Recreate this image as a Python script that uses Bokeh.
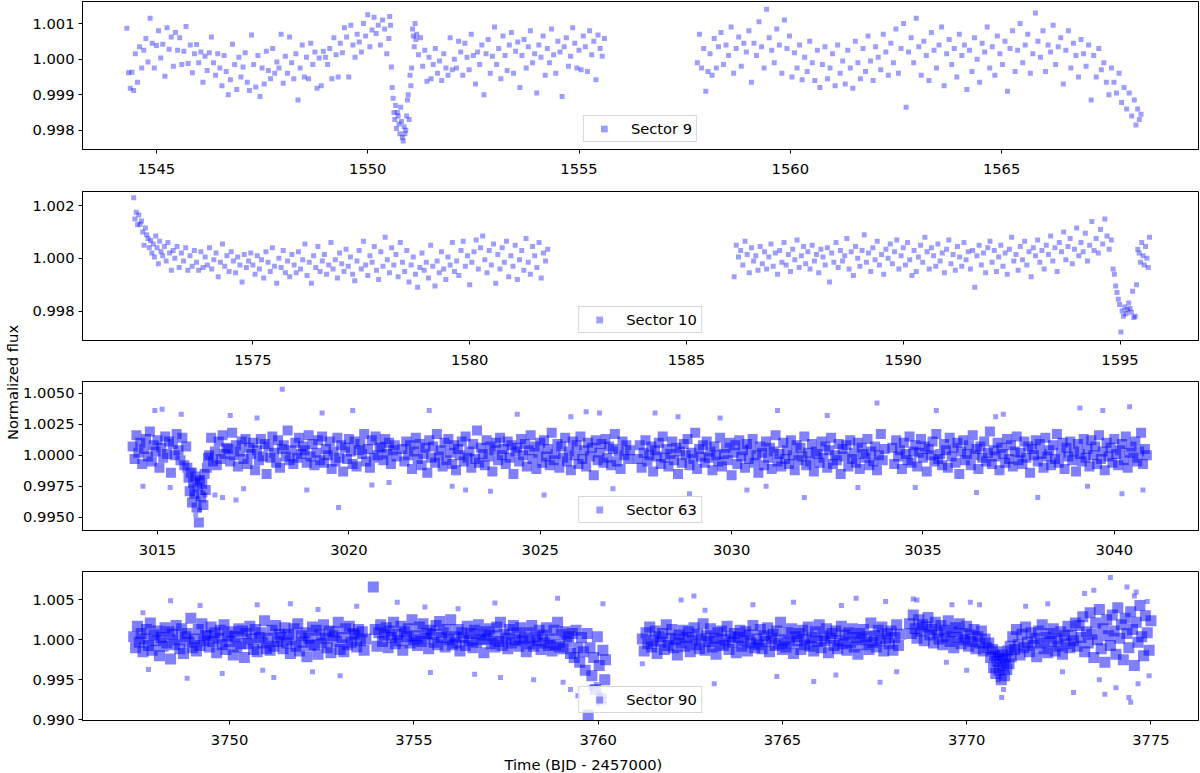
from bokeh.plotting import figure
from bokeh.layouts import column, row
from bokeh.models import Range1d, FixedTicker, NumeralTickFormatter, Title
from bokeh.embed import file_html
from bokeh.resources import INLINE

FONT = "DejaVu Sans"
FS = "14.7px"

sector_labels = ["Sector 9", "Sector 10", "Sector 63", "Sector 90"]
x_title = "Time (BJD - 2457000)"
y_title = "Normalized flux"

s9_xticks = [1545, 1550, 1555, 1560, 1565]
s9_yticks = [0.998, 0.999, 1.000, 1.001]
s10_xticks = [1575, 1580, 1585, 1590, 1595]
s10_yticks = [0.998, 1.000, 1.002]
s63_xticks = [3015, 3020, 3025, 3030, 3035, 3040]
s63_yticks = [0.995, 0.9975, 1.0, 1.0025, 1.005]
s90_xticks = [3750, 3755, 3760, 3765, 3770, 3775]
s90_yticks = [0.990, 0.995, 1.000, 1.005]

# ---------------- Sector 9 ----------------
s9_time = [
    1544.30,1544.34,1544.38,1544.42,1544.46,1544.50,1544.55,1544.60,1544.65,1544.70,
    1544.75,1544.80,1544.85,1544.90,1544.95,1545.00,1545.05,1545.10,1545.15,1545.20,
    1545.25,1545.30,1545.35,1545.40,1545.45,1545.50,1545.55,1545.60,1545.65,1545.70,
    1545.75,1545.80,1545.85,1545.90,1545.95,1546.00,1546.05,1546.10,1546.15,1546.20,
    1546.25,1546.30,1546.35,1546.40,1546.45,1546.50,1546.55,1546.60,1546.65,1546.70,
    1546.75,1546.80,1546.85,1546.90,1546.95,1547.00,1547.05,1547.10,1547.15,1547.20,
    1547.25,1547.30,1547.35,1547.40,1547.45,1547.50,1547.55,1547.60,1547.65,1547.70,
    1547.75,1547.80,1547.85,1547.90,1547.95,1548.00,1548.05,1548.10,1548.15,1548.20,
    1548.25,1548.30,1548.35,1548.40,1548.45,1548.50,1548.55,1548.60,1548.65,1548.70,
    1548.75,1548.80,1548.85,1548.90,1548.95,1549.00,1549.05,1549.10,1549.15,1549.20,
    1549.25,1549.30,1549.35,1549.40,1549.45,1549.50,1549.55,1549.60,1549.65,1549.70,
    1549.75,1549.80,1549.85,1549.90,1549.95,1550.00,1550.05,1550.10,1550.15,1550.20,
    1550.25,1550.30,1550.35,1550.40,1550.45,1550.50,1550.52,1550.54,1550.56,1550.58,
    1550.60,1550.62,1550.64,1550.66,1550.68,1550.70,1550.72,1550.74,1550.76,1550.78,
    1550.80,1550.82,1550.84,1550.86,1550.88,1550.90,1550.92,1550.94,1550.96,1550.98,
    1551.00,1551.02,1551.04,1551.06,1551.08,1551.10,1551.12,1551.14,1551.16,1551.20,
    1551.25,1551.30,1551.35,1551.40,1551.45,1551.50,1551.55,1551.60,1551.65,1551.70,
    1551.75,1551.80,1551.85,1551.90,1551.95,1552.00,1552.05,1552.10,1552.15,1552.20,
    1552.25,1552.30,1552.35,1552.40,1552.45,1552.50,1552.55,1552.60,1552.65,1552.70,
    1552.75,1552.80,1552.85,1552.90,1552.95,1553.00,1553.05,1553.10,1553.15,1553.20,
    1553.25,1553.30,1553.35,1553.40,1553.45,1553.50,1553.55,1553.60,1553.65,1553.70,
    1553.75,1553.80,1553.85,1553.90,1553.95,1554.00,1554.05,1554.10,1554.15,1554.20,
    1554.25,1554.30,1554.35,1554.40,1554.45,1554.50,1554.55,1554.60,1554.65,1554.70,
    1554.75,1554.80,1554.85,1554.90,1554.95,1555.00,1555.05,1555.10,1555.15,1555.20,
    1555.25,1555.30,1555.35,1555.40,1555.45,1555.50,1555.55,1555.60,
    1557.80,1557.85,1557.90,1557.95,1558.00,1558.05,1558.10,1558.15,1558.20,1558.25,
    1558.30,1558.36,1558.42,1558.48,1558.54,1558.60,1558.66,1558.72,1558.78,1558.84,
    1558.90,1558.96,1559.02,1559.08,1559.14,1559.20,1559.26,1559.32,1559.38,1559.44,
    1559.50,1559.56,1559.62,1559.68,1559.74,1559.80,1559.86,1559.92,1559.98,1560.04,
    1560.10,1560.16,1560.22,1560.28,1560.34,1560.40,1560.46,1560.52,1560.58,1560.64,
    1560.70,1560.76,1560.82,1560.88,1560.94,1561.00,1561.06,1561.12,1561.18,1561.24,
    1561.30,1561.36,1561.42,1561.48,1561.54,1561.60,1561.66,1561.72,1561.78,1561.84,
    1561.90,1561.96,1562.02,1562.08,1562.14,1562.20,1562.26,1562.32,1562.38,1562.44,
    1562.50,1562.56,1562.62,1562.68,1562.74,1562.80,1562.86,1562.92,1562.98,1563.04,
    1563.10,1563.16,1563.22,1563.28,1563.34,1563.40,1563.46,1563.52,1563.58,1563.64,
    1563.70,1563.76,1563.82,1563.88,1563.94,1564.00,1564.06,1564.12,1564.18,1564.24,
    1564.30,1564.36,1564.42,1564.48,1564.54,1564.60,1564.66,1564.72,1564.78,1564.84,
    1564.90,1564.96,1565.02,1565.08,1565.14,1565.20,1565.26,1565.32,1565.38,1565.44,
    1565.50,1565.56,1565.62,1565.68,1565.74,1565.80,1565.86,1565.92,1565.98,1566.04,
    1566.10,1566.16,1566.22,1566.28,1566.34,1566.40,1566.46,1566.52,1566.58,1566.64,
    1566.70,1566.76,1566.82,1566.88,1566.94,1567.00,1567.06,1567.12,1567.18,1567.24,
    1567.30,1567.36,1567.42,1567.48,1567.54,1567.60,1567.66,1567.72,1567.78,1567.84,
    1567.90,1567.96,1568.02,1568.08,1568.14,1568.18,1568.22,1568.26,1568.30,
]
s9_flux = [
    1.00087,0.99962,0.99918,0.99963,0.99912,1.00015,0.99935,1.00035,0.99975,1.00025,
    1.00058,0.99992,1.00115,1.00045,0.99975,1.00038,1.00080,1.00003,1.00042,0.99952,
    1.00088,1.00028,1.00062,0.99980,1.00075,1.00025,1.00060,0.99985,1.00022,1.00092,
    0.99988,1.00040,0.99962,1.00015,1.00041,0.99990,1.00020,0.99935,1.00008,0.99968,
    1.00018,1.00062,0.99990,0.99955,1.00015,0.99975,0.99925,1.00010,0.99965,0.99900,
    0.99942,1.00042,0.99985,0.99915,1.00005,0.99950,0.99978,1.00018,0.99935,0.99912,
    1.00068,0.99985,0.99922,1.00010,0.99895,0.99975,0.99930,1.00022,0.99968,0.99945,
    1.00030,0.99960,0.99992,0.99975,1.00070,0.99932,1.00008,0.99960,1.00062,0.99990,
    0.99945,1.00015,0.99885,0.99975,1.00040,0.99950,1.00005,0.99945,1.00045,0.99985,
    1.00020,0.99918,1.00003,0.99925,1.00022,1.00005,0.99985,1.00030,0.99945,1.00060,
    1.00012,0.99950,1.00045,1.00018,1.00088,1.00062,0.99950,1.00095,1.00040,1.00005,
    1.00070,1.00048,1.00020,1.00100,1.00065,1.00125,1.00035,1.00082,1.00118,1.00072,
    1.00095,1.00040,1.00110,1.00085,1.00015,1.00058,1.00120,1.00095,0.99978,0.99920,
    0.99890,0.99850,0.99830,0.99870,0.99805,0.99850,0.99840,0.99818,0.99790,0.99865,
    0.99825,0.99780,0.99770,0.99810,0.99790,0.99800,0.99840,0.99885,0.99900,0.99830,
    0.99955,0.99925,0.99975,1.00085,1.00065,1.00035,1.00100,1.00055,1.00070,1.00012,
    1.00060,0.99980,1.00025,0.99938,1.00005,0.99945,0.99985,1.00030,0.99960,0.99995,
    0.99940,1.00015,0.99975,0.99955,1.00060,0.99970,1.00000,0.99975,1.00050,1.00020,
    0.99955,1.00045,1.00005,0.99970,1.00070,1.00010,0.99930,1.00020,0.99985,1.00040,
    0.99900,1.00015,1.00055,0.99960,1.00008,1.00090,0.99985,1.00030,0.99945,1.00065,
    1.00010,0.99968,1.00040,1.00075,0.99960,1.00022,1.00048,0.99920,1.00010,1.00055,
    0.99975,1.00035,1.00080,0.99990,1.00015,0.99905,1.00040,1.00005,1.00065,0.99955,
    1.00030,0.99990,1.00085,1.00012,0.99960,1.00050,1.00020,0.99895,1.00035,1.00060,
    0.99980,1.00008,1.00088,1.00045,0.99975,1.00025,0.99970,1.00065,1.00035,0.99965,
    1.00080,1.00012,1.00050,0.99942,1.00068,1.00030,1.00008,1.00058,
    0.99990,1.00070,0.99975,1.00030,0.99910,0.99965,1.00015,0.99955,1.00058,0.99975,
    1.00035,1.00075,0.99985,1.00040,1.00010,1.00090,0.99960,1.00030,1.00062,0.99980,
    1.00045,1.00020,1.00080,0.99935,1.00045,1.00010,1.00105,1.00035,0.99975,1.00140,
    1.00060,1.00025,0.99990,1.00085,1.00040,0.99960,1.00110,1.00030,1.00065,0.99950,
    1.00018,0.99975,1.00040,0.99942,1.00005,0.99965,1.00050,0.99990,0.99940,1.00025,
    0.99920,0.99985,1.00035,0.99945,0.99975,1.00015,0.99925,1.00040,0.99960,0.99995,
    0.99930,1.00025,0.99975,0.99918,1.00050,0.99990,0.99945,1.00030,0.99965,1.00065,
    0.99995,0.99940,1.00035,1.00005,0.99970,1.00070,1.00020,0.99955,1.00045,0.99990,
    1.00085,0.99960,1.00030,1.00100,0.99865,1.00020,1.00060,0.99990,1.00115,1.00035,
    0.99955,1.00050,1.00010,0.99940,1.00075,1.00025,0.99975,1.00040,1.00090,0.99925,
    1.00015,1.00055,0.99985,1.00030,0.99950,1.00070,1.00010,1.00040,0.99915,1.00025,
    0.99965,1.00060,1.00000,0.99935,1.00045,1.00020,1.00090,0.99975,1.00035,0.99955,
    1.00065,1.00015,0.99985,1.00050,0.99910,1.00030,1.00080,0.99965,1.00025,1.00100,
    0.99990,1.00040,1.00070,0.99960,1.00015,1.00130,1.00050,1.00005,1.00080,0.99965,
    1.00040,1.00020,1.00095,0.99985,1.00035,1.00060,0.99930,1.00025,1.00080,0.99975,
    1.00045,1.00010,0.99950,1.00055,1.00015,0.99980,1.00040,0.99885,1.00010,0.99950,
    1.00030,0.99970,0.99990,0.99935,0.99900,0.99975,0.99935,0.99905,0.99960,0.99878,
    0.99920,0.99860,0.99905,0.99840,0.99885,0.99815,0.99860,0.99830,0.99845,
]

# ---------------- Sector 10 ----------------
s10_time = [
    1572.25,1572.28,1572.31,1572.34,1572.37,1572.40,1572.43,1572.46,1572.49,1572.52,
    1572.55,1572.58,1572.61,1572.64,1572.67,1572.70,1572.73,1572.76,1572.79,1572.82,
    1572.85,1572.88,1572.92,1572.96,1573.00,1573.04,1573.08,1573.12,1573.16,1573.20,
    1573.25,1573.30,1573.35,1573.40,1573.45,1573.50,1573.55,1573.60,1573.65,1573.70,
    1573.75,1573.80,1573.85,1573.90,1573.95,1574.00,1574.05,1574.10,1574.15,1574.20,
    1574.25,1574.30,1574.35,1574.40,1574.45,1574.50,1574.55,1574.60,1574.65,1574.70,
    1574.75,1574.80,1574.85,1574.90,1574.95,1575.00,1575.05,1575.10,1575.15,1575.20,
    1575.25,1575.30,1575.35,1575.40,1575.45,1575.50,1575.55,1575.60,1575.65,1575.70,
    1575.75,1575.80,1575.85,1575.90,1575.95,1576.00,1576.05,1576.10,1576.15,1576.20,
    1576.25,1576.30,1576.35,1576.40,1576.45,1576.50,1576.55,1576.60,1576.65,1576.70,
    1576.75,1576.80,1576.85,1576.90,1576.95,1577.00,1577.05,1577.10,1577.15,1577.20,
    1577.25,1577.30,1577.35,1577.40,1577.45,1577.50,1577.55,1577.60,1577.65,1577.70,
    1577.75,1577.80,1577.85,1577.90,1577.95,1578.00,1578.05,1578.10,1578.15,1578.20,
    1578.25,1578.30,1578.35,1578.40,1578.45,1578.50,1578.55,1578.60,1578.65,1578.70,
    1578.75,1578.80,1578.85,1578.90,1578.95,1579.00,1579.05,1579.10,1579.15,1579.20,
    1579.25,1579.30,1579.35,1579.40,1579.45,1579.50,1579.55,1579.60,1579.65,1579.70,
    1579.75,1579.80,1579.85,1579.90,1579.95,1580.00,1580.05,1580.10,1580.15,1580.20,
    1580.25,1580.30,1580.35,1580.40,1580.45,1580.50,1580.55,1580.60,1580.65,1580.70,
    1580.75,1580.80,1580.85,1580.90,1580.95,1581.00,1581.05,1581.10,1581.15,1581.20,
    1581.25,1581.30,1581.35,1581.40,1581.45,1581.50,1581.55,1581.60,1581.65,1581.70,
    1581.75,1581.80,
    1586.10,1586.15,1586.20,1586.25,1586.30,1586.35,1586.40,1586.45,1586.50,1586.55,
    1586.60,1586.65,1586.70,1586.75,1586.80,1586.85,1586.90,1586.95,1587.00,1587.05,
    1587.10,1587.15,1587.20,1587.25,1587.30,1587.35,1587.40,1587.45,1587.50,1587.55,
    1587.60,1587.65,1587.70,1587.75,1587.80,1587.85,1587.90,1587.95,1588.00,1588.05,
    1588.10,1588.15,1588.20,1588.25,1588.30,1588.35,1588.40,1588.45,1588.50,1588.55,
    1588.60,1588.65,1588.70,1588.75,1588.80,1588.85,1588.90,1588.95,1589.00,1589.05,
    1589.10,1589.15,1589.20,1589.25,1589.30,1589.35,1589.40,1589.45,1589.50,1589.55,
    1589.60,1589.65,1589.70,1589.75,1589.80,1589.85,1589.90,1589.95,1590.00,1590.05,
    1590.10,1590.15,1590.20,1590.25,1590.30,1590.35,1590.40,1590.45,1590.50,1590.55,
    1590.60,1590.65,1590.70,1590.75,1590.80,1590.85,1590.90,1590.95,1591.00,1591.05,
    1591.10,1591.15,1591.20,1591.25,1591.30,1591.35,1591.40,1591.45,1591.50,1591.55,
    1591.60,1591.65,1591.70,1591.75,1591.80,1591.85,1591.90,1591.95,1592.00,1592.05,
    1592.10,1592.15,1592.20,1592.25,1592.30,1592.35,1592.40,1592.45,1592.50,1592.55,
    1592.60,1592.65,1592.70,1592.75,1592.80,1592.85,1592.90,1592.95,1593.00,1593.05,
    1593.10,1593.15,1593.20,1593.25,1593.30,1593.35,1593.40,1593.45,1593.50,1593.55,
    1593.60,1593.65,1593.70,1593.75,1593.80,1593.85,1593.90,1593.95,1594.00,1594.05,
    1594.10,1594.15,1594.20,1594.25,1594.30,1594.35,1594.40,1594.45,1594.50,1594.55,
    1594.60,1594.65,1594.70,1594.75,1594.80,
    1594.84,1594.87,1594.90,1594.93,1594.96,1594.99,1595.02,1595.05,1595.08,1595.11,
    1595.14,1595.17,1595.20,1595.23,1595.26,1595.29,1595.32,1595.35,1595.38,1595.41,
    1595.44,1595.47,1595.50,1595.53,1595.56,1595.59,1595.62,1595.65,1595.68,
]
s10_flux = [
    1.00230,1.00150,1.00175,1.00128,1.00165,1.00130,1.00142,1.00100,1.00050,1.00115,
    1.00090,1.00075,1.00040,1.00068,1.00020,1.00055,1.00005,1.00085,1.00040,0.99980,
    1.00065,1.00025,1.00010,1.00045,0.99990,1.00060,1.00020,0.99955,1.00030,1.00000,
    1.00045,0.99965,1.00020,0.99990,1.00040,0.99955,1.00010,0.99970,1.00030,0.99985,
    0.99955,1.00025,0.99965,1.00005,0.99975,1.00040,0.99960,0.99995,1.00020,0.99930,
    0.99985,1.00055,0.99970,1.00010,0.99950,1.00025,0.99990,0.99945,1.00005,0.99975,
    0.99910,1.00015,0.99965,0.99990,1.00020,0.99975,0.99940,1.00010,0.99960,0.99995,
    0.99925,1.00025,0.99985,0.99950,1.00040,0.99970,0.99905,1.00000,0.99965,1.00030,
    0.99945,0.99990,0.99930,1.00015,0.99975,0.99945,1.00025,0.99960,0.99995,1.00055,
    0.99935,0.99985,0.99905,1.00010,0.99965,1.00045,0.99950,0.99990,1.00015,0.99940,
    0.99975,1.00060,0.99960,0.99995,0.99925,1.00020,0.99980,0.99950,1.00035,0.99970,
    1.00005,0.99940,0.99915,0.99990,1.00030,0.99960,1.00065,0.99975,0.99935,1.00010,
    0.99985,1.00045,0.99955,0.99920,1.00025,0.99970,1.00080,0.99995,0.99945,1.00040,
    0.99975,1.00015,0.99930,1.00060,0.99985,0.99950,1.00030,0.99910,0.99975,1.00005,
    0.99940,0.99890,0.99965,1.00020,0.99955,0.99985,0.99925,1.00050,0.99970,0.99895,
    0.99990,0.99945,1.00025,0.99960,0.99920,1.00005,0.99975,1.00060,0.99950,0.99990,
    0.99935,1.00030,1.00065,0.99970,1.00010,0.99900,0.99985,1.00025,1.00070,0.99960,
    1.00040,1.00085,0.99995,0.99945,1.00030,0.99975,1.00055,0.99905,1.00015,0.99960,
    1.00040,0.99985,1.00065,0.99930,1.00010,0.99970,1.00050,0.99920,0.99995,1.00030,
    0.99955,1.00075,0.99985,0.99940,1.00045,1.00010,0.99965,1.00060,0.99925,1.00020,
    0.99990,1.00035,
    0.99930,1.00050,1.00005,1.00030,0.99975,1.00065,1.00015,0.99945,1.00040,0.99990,
    1.00010,0.99955,1.00045,0.99980,1.00025,0.99960,1.00005,1.00055,0.99970,1.00020,
    0.99940,1.00030,0.99985,1.00060,0.99975,1.00015,0.99950,1.00035,0.99995,1.00070,
    0.99965,1.00010,1.00045,0.99980,1.00025,0.99960,1.00050,0.99990,1.00015,0.99945,
    1.00035,1.00005,0.99975,1.00040,0.99910,1.00020,0.99985,1.00060,0.99965,1.00030,
    0.99990,1.00010,1.00075,0.99960,1.00025,0.99935,1.00045,1.00000,0.99970,1.00030,
    1.00090,0.99985,1.00020,0.99950,1.00040,0.99995,1.00065,0.99975,1.00015,0.99940,
    1.00035,1.00000,1.00055,0.99980,1.00025,1.00070,0.99960,1.00010,1.00040,0.99975,
    1.00060,0.99995,0.99935,1.00030,0.99950,1.00005,1.00050,0.99985,1.00080,1.00025,
    0.99960,1.00040,1.00010,0.99970,1.00055,0.99990,1.00020,0.99945,1.00035,1.00070,
    0.99980,1.00015,0.99955,1.00045,1.00005,0.99970,1.00060,0.99995,1.00025,0.99960,
    1.00030,0.99890,1.00010,1.00050,0.99975,1.00020,0.99945,1.00040,1.00065,0.99985,
    1.00030,0.99950,1.00005,1.00050,0.99970,1.00020,0.99940,1.00035,1.00080,0.99990,
    1.00015,0.99955,1.00045,0.99995,1.00065,0.99975,1.00025,0.99930,1.00040,1.00010,
    1.00070,0.99985,1.00030,0.99960,1.00050,1.00015,1.00085,0.99990,1.00040,0.99950,
    1.00060,1.00025,1.00100,0.99995,1.00045,1.00075,0.99980,1.00035,1.00115,1.00010,
    1.00060,1.00025,1.00095,0.99990,1.00050,1.00140,1.00030,1.00075,1.00020,1.00110,
    1.00055,1.00150,1.00085,1.00035,1.00070,
    0.99960,0.99940,0.99895,0.99870,0.99845,0.99825,0.99720,0.99800,0.99780,0.99815,
    0.99790,0.99805,0.99830,0.99810,0.99795,0.99875,0.99775,0.99780,0.99900,1.00035,
    1.00020,0.99985,1.00060,1.00010,0.99975,1.00045,1.00000,0.99965,1.00080,
]

# ---------------- Sector 63 (dense cadence points) ----------------
s63_time = [
    3014.35,3014.40,3014.45,3014.50,3014.55,3014.60,3014.65,3014.70,3014.75,3014.80,
    3014.85,3014.90,3014.95,3015.00,3015.05,3015.10,3015.15,3015.20,3015.25,3015.30,
    3015.35,3015.40,3015.45,3015.50,3015.55,3015.60,3015.65,3015.70,3015.75,
    3015.78,3015.81,3015.84,3015.87,3015.90,3015.93,3015.96,3015.99,3016.02,3016.05,
    3016.08,3016.11,3016.14,3016.17,3016.20,3016.23,3016.26,3016.29,3016.32,
    3016.35,3016.40,3016.45,3016.50,3016.55,3016.60,3016.65,3016.70,3016.75,3016.80,
    3016.85,3016.90,3016.95,3017.00,3017.05,3017.10,3017.15,3017.20,3017.25,3017.30,
    3017.35,3017.40,3017.45,3017.50,3017.55,3017.60,3017.65,3017.70,3017.75,3017.80,
    3017.85,3017.90,3017.95,3018.00,3018.05,3018.10,3018.15,3018.20,3018.25,3018.30,
    3018.35,3018.40,3018.45,3018.50,3018.55,3018.60,3018.65,3018.70,3018.75,3018.80,
    3018.85,3018.90,3018.95,3019.00,3019.05,3019.10,3019.15,3019.20,3019.25,3019.30,
    3019.35,3019.40,3019.45,3019.50,3019.55,3019.60,3019.65,3019.70,3019.75,3019.80,
    3019.85,3019.90,3019.95,3020.00,3020.05,3020.10,3020.15,3020.20,3020.25,3020.30,
    3020.35,3020.40,3020.45,3020.50,3020.55,3020.60,3020.65,3020.70,3020.75,3020.80,
    3020.85,3020.90,3020.95,3021.00,3021.05,3021.10,3021.15,3021.20,3021.25,
    3021.40,3021.45,3021.50,3021.55,3021.60,3021.65,3021.70,3021.75,3021.80,3021.85,
    3021.90,3021.95,3022.00,3022.05,3022.10,3022.15,3022.20,3022.25,3022.30,3022.35,
    3022.40,3022.45,3022.50,3022.55,3022.60,3022.65,3022.70,3022.75,3022.80,3022.85,
    3022.90,3022.95,3023.00,3023.05,3023.10,3023.15,3023.20,3023.25,3023.30,3023.35,
    3023.40,3023.45,3023.50,3023.55,3023.60,3023.65,3023.70,3023.75,3023.80,3023.85,
    3023.90,3023.95,3024.00,3024.05,3024.10,3024.15,3024.20,3024.25,3024.30,3024.35,
    3024.40,3024.45,3024.50,3024.55,3024.60,3024.65,3024.70,3024.75,3024.80,3024.85,
    3024.90,3024.95,3025.00,3025.05,3025.10,3025.15,3025.20,3025.25,3025.30,3025.35,
    3025.40,3025.45,3025.50,3025.55,3025.60,3025.65,3025.70,3025.75,3025.80,3025.85,
    3025.90,3025.95,3026.00,3026.05,3026.10,3026.15,3026.20,3026.25,3026.30,3026.35,
    3026.40,3026.45,3026.50,3026.55,3026.60,3026.65,3026.70,3026.75,3026.80,3026.85,
    3026.90,3026.95,3027.00,3027.05,3027.10,3027.15,3027.20,3027.25,3027.30,3027.35,
    3027.55,3027.60,3027.65,3027.70,3027.75,3027.80,3027.85,3027.90,3027.95,3028.00,
    3028.05,3028.10,3028.15,3028.20,3028.25,3028.30,3028.35,3028.40,3028.45,3028.50,
    3028.55,3028.60,3028.65,3028.70,3028.75,3028.80,3028.85,3028.90,3028.95,3029.00,
    3029.05,3029.10,3029.15,3029.20,3029.25,3029.30,3029.35,3029.40,3029.45,3029.50,
    3029.55,3029.60,3029.65,3029.70,3029.75,3029.80,3029.85,3029.90,3029.95,3030.00,
    3030.05,3030.10,3030.15,3030.20,3030.25,3030.30,3030.35,3030.40,3030.45,3030.50,
    3030.55,3030.60,3030.65,3030.70,3030.75,3030.80,3030.85,3030.90,3030.95,3031.00,
    3031.05,3031.10,3031.15,3031.20,3031.25,3031.30,3031.35,3031.40,3031.45,3031.50,
    3031.55,3031.60,3031.65,3031.70,3031.75,3031.80,3031.85,3031.90,3031.95,3032.00,
    3032.05,3032.10,3032.15,3032.20,3032.25,3032.30,3032.35,3032.40,3032.45,3032.50,
    3032.55,3032.60,3032.65,3032.70,3032.75,3032.80,3032.85,3032.90,3032.95,3033.00,
    3033.05,3033.10,3033.15,3033.20,3033.25,3033.30,3033.35,3033.40,3033.45,3033.50,
    3033.55,3033.60,3033.65,3033.70,3033.75,3033.80,3033.85,3033.90,3033.95,3034.00,
    3034.20,3034.25,3034.30,3034.35,3034.40,3034.45,3034.50,3034.55,3034.60,3034.65,
    3034.70,3034.75,3034.80,3034.85,3034.90,3034.95,3035.00,3035.05,3035.10,3035.15,
    3035.20,3035.25,3035.30,3035.35,3035.40,3035.45,3035.50,3035.55,3035.60,3035.65,
    3035.70,3035.75,3035.80,3035.85,3035.90,3035.95,3036.00,3036.05,3036.10,3036.15,
    3036.20,3036.25,3036.30,3036.35,3036.40,3036.45,3036.50,3036.55,3036.60,3036.65,
    3036.70,3036.75,3036.80,3036.85,3036.90,3036.95,3037.00,3037.05,3037.10,3037.15,
    3037.20,3037.25,3037.30,3037.35,3037.40,3037.45,3037.50,3037.55,3037.60,3037.65,
    3037.70,3037.75,3037.80,3037.85,3037.90,3037.95,3038.00,3038.05,3038.10,3038.15,
    3038.20,3038.25,3038.30,3038.35,3038.40,3038.45,3038.50,3038.55,3038.60,3038.65,
    3038.70,3038.75,3038.80,3038.85,3038.90,3038.95,3039.00,3039.05,3039.10,3039.15,
    3039.20,3039.25,3039.30,3039.35,3039.40,3039.45,3039.50,3039.55,3039.60,3039.65,
    3039.70,3039.75,3039.80,3039.85,3039.90,3039.95,3040.00,3040.05,3040.10,3040.15,
    3040.20,3040.25,3040.30,3040.35,3040.40,3040.45,3040.50,3040.55,3040.60,3040.65,
    3040.70,3040.75,3040.80,3040.85,
]
s63_flux = [
    1.0007,0.9997,1.0016,1.0002,1.0010,0.9993,1.0005,1.0013,0.9999,1.0019,
    0.9995,1.0008,1.0003,1.0012,0.9990,1.0006,0.9998,1.0015,1.0001,1.0011,
    0.9986,1.0009,1.0000,1.0017,1.0004,0.9996,1.0014,0.9992,1.0007,
    0.9990,0.9982,0.9971,0.9986,0.9962,0.9978,0.9969,0.9983,0.9958,0.9974,
    0.9946,0.9980,0.9966,0.9977,0.9960,0.9985,0.9972,0.9990,0.9998,
    1.0000,1.0014,0.9995,1.0003,0.9992,1.0011,0.9997,1.0016,1.0001,1.0006,
    1.0005,0.9995,1.0018,1.0000,1.0008,0.9991,1.0003,1.0011,0.9997,1.0013,
    0.9993,1.0006,1.0001,1.0010,0.9988,1.0004,0.9996,1.0013,0.9999,1.0009,
    0.9985,1.0007,0.9998,1.0015,1.0002,0.9994,1.0012,0.9990,1.0005,1.0008,
    0.9999,1.0020,0.9996,1.0004,0.9993,1.0010,0.9998,1.0014,1.0001,1.0007,
    1.0004,0.9994,1.0016,0.9999,1.0009,0.9992,1.0002,1.0012,0.9996,1.0015,
    0.9994,1.0005,1.0000,1.0011,0.9989,1.0003,0.9995,1.0014,0.9998,1.0008,
    0.9987,1.0006,0.9997,1.0013,1.0003,0.9993,1.0011,0.9991,1.0004,1.0009,
    1.0001,1.0017,0.9995,1.0005,0.9990,1.0012,0.9998,1.0015,1.0000,1.0007,
    1.0006,0.9996,1.0013,1.0001,1.0010,0.9993,1.0004,1.0008,0.9999,
    1.0005,0.9995,1.0011,1.0000,1.0008,0.9989,1.0003,1.0014,0.9997,1.0009,
    0.9992,1.0001,1.0006,0.9986,1.0012,0.9998,1.0007,0.9994,1.0017,0.9999,
    1.0004,0.9991,1.0010,0.9996,1.0013,1.0002,0.9993,1.0008,0.9988,1.0005,
    1.0000,1.0011,0.9995,1.0015,0.9998,1.0003,0.9990,1.0009,0.9997,1.0020,
    0.9994,1.0006,1.0001,0.9992,1.0012,0.9999,1.0007,0.9987,1.0004,1.0010,
    0.9996,1.0014,1.0000,1.0005,0.9993,1.0011,0.9998,1.0008,0.9985,1.0003,
    1.0006,0.9995,1.0013,1.0000,1.0009,0.9991,1.0004,1.0016,0.9997,1.0007,
    0.9989,1.0002,1.0010,0.9994,1.0012,0.9999,1.0005,0.9992,1.0018,0.9996,
    1.0001,1.0009,0.9990,1.0007,0.9998,1.0014,0.9995,1.0003,0.9988,1.0011,
    1.0000,1.0008,0.9993,1.0015,0.9997,1.0004,0.9991,1.0010,0.9999,1.0006,
    0.9984,1.0012,0.9996,1.0002,1.0009,0.9994,1.0013,0.9998,1.0007,0.9992,
    1.0005,1.0017,0.9995,1.0003,0.9989,1.0011,1.0000,1.0008,0.9997,1.0004,
    0.9997,1.0008,0.9990,1.0002,1.0012,0.9995,1.0000,1.0007,0.9987,1.0004,
    0.9999,1.0010,0.9993,1.0015,0.9998,1.0005,0.9991,1.0001,1.0011,0.9996,
    1.0006,0.9985,1.0003,0.9994,1.0009,1.0000,1.0013,0.9992,1.0002,0.9997,
    1.0018,0.9989,1.0005,0.9999,1.0008,0.9994,1.0011,0.9998,1.0003,0.9988,
    1.0007,1.0000,0.9995,1.0014,0.9991,1.0001,1.0006,0.9996,1.0010,0.9984,
    1.0002,1.0008,0.9993,1.0012,0.9999,1.0004,0.9990,1.0009,0.9997,1.0005,
    1.0013,0.9994,1.0000,0.9986,1.0007,1.0002,0.9992,1.0011,0.9998,1.0006,
    0.9989,1.0003,1.0016,0.9995,1.0001,0.9991,1.0010,0.9997,1.0004,0.9993,
    1.0012,1.0000,0.9988,1.0008,0.9996,1.0006,0.9999,1.0015,0.9992,1.0002,
    0.9995,1.0009,0.9987,1.0003,1.0001,0.9994,1.0011,0.9998,1.0007,0.9990,
    1.0004,1.0014,0.9993,1.0000,0.9996,1.0009,0.9985,1.0005,0.9999,1.0008,
    0.9991,1.0012,0.9997,1.0002,0.9994,1.0010,0.9989,1.0006,1.0001,0.9998,
    1.0013,0.9992,1.0003,0.9995,1.0007,0.9988,1.0000,1.0017,0.9996,1.0005,
    1.0006,0.9993,1.0012,0.9999,1.0004,0.9989,1.0010,1.0001,0.9996,1.0015,
    0.9994,1.0003,1.0008,0.9991,1.0002,1.0013,0.9998,1.0007,0.9987,1.0005,
    1.0000,1.0011,0.9995,1.0017,0.9997,1.0001,0.9992,1.0009,1.0004,0.9990,
    1.0014,0.9999,1.0006,0.9994,1.0010,0.9985,1.0003,1.0012,0.9996,1.0001,
    1.0008,0.9992,1.0016,1.0000,1.0005,0.9989,1.0007,0.9998,1.0011,0.9995,
    1.0002,1.0019,0.9993,1.0004,0.9999,1.0010,0.9988,1.0006,1.0001,0.9994,
    1.0013,0.9997,1.0008,0.9991,1.0003,1.0015,0.9996,1.0002,0.9993,1.0011,
    0.9998,1.0007,0.9986,1.0005,1.0000,1.0012,0.9995,1.0009,1.0001,0.9990,
    1.0014,0.9999,1.0004,0.9992,1.0008,0.9997,1.0017,0.9994,1.0002,1.0010,
    0.9989,1.0006,0.9999,1.0011,0.9996,1.0003,0.9987,1.0009,1.0001,0.9995,
    1.0013,0.9998,1.0005,0.9991,1.0012,1.0000,1.0007,0.9993,1.0016,0.9997,
    1.0003,0.9988,1.0010,0.9999,1.0006,0.9994,1.0013,1.0001,0.9992,1.0004,
    1.0009,0.9996,1.0015,0.9990,1.0002,1.0007,0.9998,1.0011,0.9995,1.0003,
    1.0018,0.9993,1.0005,1.0000,
]
# Sector 63: scattered points away from the dense band
s63_sparse_time = [
    3014.93,3015.12,3014.62,3015.62,3015.33,3015.88,3015.97,3016.06,3016.15,3016.24,
    3016.00,3016.10,3016.04,3015.92,3016.18,3018.26,3019.73,3016.70,3016.90,3017.60,
    3018.90,3020.10,3020.60,3017.25,3019.30,3021.05,3016.50,3017.05,3022.10,3023.70,
    3024.40,3025.10,3026.20,3026.90,3022.70,3025.80,3023.05,3026.55,3028.00,3028.90,
    3029.70,3030.40,3031.20,3031.90,3032.50,3033.30,3033.80,3030.90,3028.60,3035.35,
    3036.40,3037.10,3038.00,3039.10,3039.70,3040.40,3040.20,3039.30,3040.75,3034.80,
    3036.90,
]
s63_sparse_flux = [
    1.0036,1.0037,0.9975,1.0033,0.9974,0.9975,0.9988,0.9965,0.9982,0.9968,
    0.9952,0.9956,0.9980,0.9968,0.9970,1.0053,0.9958,0.9966,1.0032,1.0030,
    0.9972,1.0036,0.9976,0.9973,1.0034,0.9978,0.9968,0.9964,1.0036,0.9971,
    1.0033,0.9968,1.0035,0.9973,0.9975,1.0031,0.9972,1.0034,1.0034,0.9969,
    1.0030,0.9972,1.0036,0.9966,1.0032,0.9974,1.0042,0.9975,1.0031,1.0036,
    0.9970,1.0033,0.9966,1.0038,1.0036,1.0039,0.9969,0.9975,0.9972,0.9974,
    1.0031,
]

# ---------------- Sector 90 (dense cadence points) ----------------
s90_time = [
    3747.40,3747.45,3747.50,3747.55,3747.60,3747.65,3747.70,3747.75,3747.80,3747.85,
    3747.90,3747.95,3748.00,3748.05,3748.10,3748.15,3748.20,3748.25,3748.30,3748.35,
    3748.40,3748.45,3748.50,3748.55,3748.60,3748.65,3748.70,3748.75,3748.80,3748.85,
    3748.90,3748.95,3749.00,3749.05,3749.10,3749.15,3749.20,3749.25,3749.30,3749.35,
    3749.40,3749.45,3749.50,3749.55,3749.60,3749.65,3749.70,3749.75,3749.80,3749.85,
    3749.90,3749.95,3750.00,3750.05,3750.10,3750.15,3750.20,3750.25,3750.30,3750.35,
    3750.40,3750.45,3750.50,3750.55,3750.60,3750.65,3750.70,3750.75,3750.80,3750.85,
    3750.90,3750.95,3751.00,3751.05,3751.10,3751.15,3751.20,3751.25,3751.30,3751.35,
    3751.40,3751.45,3751.50,3751.55,3751.60,3751.65,3751.70,3751.75,3751.80,3751.85,
    3751.90,3751.95,3752.00,3752.05,3752.10,3752.15,3752.20,3752.25,3752.30,3752.35,
    3752.40,3752.45,3752.50,3752.55,3752.60,3752.65,3752.70,3752.75,3752.80,3752.85,
    3752.90,3752.95,3753.00,3753.05,3753.10,3753.15,3753.20,3753.25,3753.30,3753.35,
    3753.40,3753.45,3753.50,3753.55,3753.60,3753.65,3753.70,
    3753.90,3753.95,3754.00,3754.05,3754.10,3754.15,3754.20,3754.25,3754.30,3754.35,
    3754.40,3754.45,3754.50,3754.55,3754.60,3754.65,3754.70,3754.75,3754.80,3754.85,
    3754.90,3754.95,3755.00,3755.05,3755.10,3755.15,3755.20,3755.25,3755.30,3755.35,
    3755.40,3755.45,3755.50,3755.55,3755.60,3755.65,3755.70,3755.75,3755.80,3755.85,
    3755.90,3755.95,3756.00,3756.05,3756.10,3756.15,3756.20,3756.25,3756.30,3756.35,
    3756.40,3756.45,3756.50,3756.55,3756.60,3756.65,3756.70,3756.75,3756.80,3756.85,
    3756.90,3756.95,3757.00,3757.05,3757.10,3757.15,3757.20,3757.25,3757.30,3757.35,
    3757.40,3757.45,3757.50,3757.55,3757.60,3757.65,3757.70,3757.75,3757.80,3757.85,
    3757.90,3757.95,3758.00,3758.05,3758.10,3758.15,3758.20,3758.25,3758.30,3758.35,
    3758.40,3758.45,3758.50,3758.55,3758.60,3758.65,3758.70,3758.75,3758.80,3758.85,
    3758.90,3758.95,3759.00,3759.05,3759.10,3759.15,3759.20,3759.25,3759.30,3759.35,
    3759.40,3759.45,3759.50,3759.55,3759.60,3759.65,3759.70,
    3759.73,3759.78,3759.83,3759.88,3759.93,3759.98,3760.03,3760.08,3760.13,3760.18,3760.20,
    3761.20,3761.25,3761.30,3761.35,3761.40,3761.45,3761.50,3761.55,3761.60,3761.65,
    3761.70,3761.75,3761.80,3761.85,3761.90,3761.95,3762.00,3762.05,3762.10,3762.15,
    3762.20,3762.25,3762.30,3762.35,3762.40,3762.45,3762.50,3762.55,3762.60,3762.65,
    3762.70,3762.75,3762.80,3762.85,3762.90,3762.95,3763.00,3763.05,3763.10,3763.15,
    3763.20,3763.25,3763.30,3763.35,3763.40,3763.45,3763.50,3763.55,3763.60,3763.65,
    3763.70,3763.75,3763.80,3763.85,3763.90,3763.95,3764.00,3764.05,3764.10,3764.15,
    3764.20,3764.25,3764.30,3764.35,3764.40,3764.45,3764.50,3764.55,3764.60,3764.65,
    3764.70,3764.75,3764.80,3764.85,3764.90,3764.95,3765.00,3765.05,3765.10,3765.15,
    3765.20,3765.25,3765.30,3765.35,3765.40,3765.45,3765.50,3765.55,3765.60,3765.65,
    3765.70,3765.75,3765.80,3765.85,3765.90,3765.95,3766.00,3766.05,3766.10,3766.15,
    3766.20,3766.25,3766.30,3766.35,3766.40,3766.45,3766.50,3766.55,3766.60,3766.65,
    3766.70,3766.75,3766.80,3766.85,3766.90,3766.95,3767.00,3767.05,3767.10,3767.15,
    3767.20,3767.25,3767.30,3767.35,3767.40,3767.45,3767.50,3767.55,3767.60,3767.65,
    3767.70,3767.75,3767.80,3767.85,3767.90,3767.95,3768.00,3768.05,3768.10,3768.15,
    3768.20,
    3768.45,3768.50,3768.55,3768.60,3768.65,3768.70,3768.75,3768.80,3768.85,3768.90,
    3768.95,3769.00,3769.05,3769.10,3769.15,3769.20,3769.25,3769.30,3769.35,3769.40,
    3769.45,3769.50,3769.55,3769.60,3769.65,3769.70,3769.75,3769.80,3769.85,3769.90,
    3769.95,3770.00,3770.05,3770.10,3770.15,3770.20,3770.25,3770.30,3770.35,3770.40,
    3770.45,3770.50,3770.55,3770.60,
    3770.65,3770.70,3770.73,3770.76,3770.79,3770.82,3770.85,3770.88,3770.91,3770.94,
    3770.97,3771.00,3771.03,3771.06,3771.09,3771.12,3771.15,3771.18,3771.21,
    3771.25,3771.30,3771.35,3771.40,3771.45,3771.50,3771.55,3771.60,3771.65,3771.70,
    3771.75,3771.80,3771.85,3771.90,3771.95,3772.00,3772.05,3772.10,3772.15,3772.20,
    3772.25,3772.30,3772.35,3772.40,3772.45,3772.50,3772.55,3772.60,3772.65,3772.70,
    3772.75,3772.80,3772.85,3772.90,3772.95,
    3773.00,3773.05,3773.10,3773.15,3773.20,3773.25,3773.30,3773.35,3773.40,3773.45,
    3773.50,3773.55,3773.60,3773.65,3773.70,3773.75,3773.80,3773.85,3773.90,3773.95,
    3774.00,3774.05,3774.10,3774.15,3774.20,3774.25,3774.30,3774.35,3774.40,3774.45,
    3774.50,3774.55,3774.60,3774.65,3774.70,3774.75,3774.80,3774.85,3774.90,3774.95,
    3775.00,
]
s90_flux = [
    1.0004,0.9990,1.0017,0.9997,1.0008,0.9985,1.0001,1.0013,0.9993,1.0021,
    0.9987,1.0006,0.9999,1.0011,0.9980,1.0003,0.9992,1.0015,0.9996,1.0010,
    0.9976,1.0007,0.9994,1.0018,1.0000,0.9989,1.0014,0.9983,1.0004,1.0008,
    0.9997,1.0027,0.9990,1.0001,0.9986,1.0013,0.9993,1.0020,0.9999,1.0006,
    1.0005,0.9991,1.0016,0.9998,1.0009,0.9984,1.0002,1.0012,0.9994,1.0019,
    0.9988,1.0005,0.9998,1.0010,0.9981,1.0004,0.9991,1.0014,0.9995,1.0011,
    0.9978,1.0008,0.9995,1.0017,1.0001,0.9988,1.0013,0.9985,1.0003,1.0009,
    0.9996,1.0024,0.9989,1.0002,0.9987,1.0012,0.9992,1.0018,0.9998,1.0007,
    1.0003,0.9989,1.0015,0.9996,1.0007,0.9983,1.0000,1.0014,0.9992,1.0020,
    0.9986,1.0005,0.9997,1.0009,0.9979,1.0002,0.9993,1.0016,0.9994,1.0012,
    0.9982,1.0006,0.9996,1.0019,1.0002,0.9990,1.0011,0.9984,1.0005,1.0010,
    0.9998,1.0022,0.9988,1.0003,0.9985,1.0014,0.9994,1.0017,0.9997,1.0008,
    1.0006,0.9991,1.0013,0.9999,1.0010,0.9987,1.0001,
    1.0066,1.0013,0.9992,1.0009,1.0019,0.9998,1.0006,1.0015,0.9990,1.0011,
    1.0003,1.0022,0.9995,1.0007,0.9999,1.0017,0.9987,1.0010,1.0004,1.0014,
    0.9996,1.0025,1.0000,1.0005,0.9993,1.0016,0.9998,1.0020,1.0002,1.0008,
    0.9989,1.0012,1.0007,0.9997,1.0018,0.9994,1.0023,1.0003,1.0009,0.9991,
    1.0013,1.0000,1.0025,0.9994,1.0004,0.9996,1.0013,0.9986,1.0009,1.0003,
    0.9993,1.0017,0.9999,1.0008,0.9990,1.0012,0.9997,1.0019,1.0000,1.0006,
    0.9984,1.0010,1.0001,1.0014,0.9995,1.0005,0.9991,1.0016,0.9998,1.0022,
    0.9993,1.0007,1.0002,0.9989,1.0013,0.9996,1.0018,1.0000,1.0009,0.9992,
    1.0015,0.9999,1.0002,0.9985,1.0009,0.9995,1.0018,0.9992,1.0004,0.9999,
    1.0012,0.9988,1.0006,0.9996,1.0015,0.9993,1.0001,0.9986,1.0012,0.9994,
    1.0022,0.9991,1.0007,0.9989,1.0010,0.9997,1.0004,0.9983,1.0008,0.9978,
    1.0012,0.9990,0.9972,1.0003,0.9985,0.9962,1.0008,
    0.9906,0.9990,0.9955,0.9978,0.9938,1.0004,0.9968,0.9926,0.9987,0.9950,0.9975,
    1.0001,0.9986,1.0009,0.9995,1.0016,0.9991,0.9999,1.0011,0.9983,1.0004,
    0.9997,1.0008,0.9988,1.0019,0.9993,1.0002,1.0013,0.9990,1.0000,0.9981,
    1.0006,0.9996,1.0012,0.9992,1.0003,1.0010,0.9985,0.9999,1.0015,0.9994,
    1.0007,0.9989,1.0001,1.0020,0.9987,1.0005,0.9998,1.0014,0.9991,1.0002,
    0.9982,1.0009,0.9995,1.0011,0.9993,1.0000,1.0017,0.9988,1.0004,0.9997,
    1.0008,0.9984,1.0003,1.0012,0.9992,0.9999,1.0010,0.9986,1.0006,0.9996,
    1.0018,0.9990,1.0001,0.9994,1.0013,0.9989,1.0005,0.9998,1.0015,0.9985,
    1.0002,1.0007,0.9993,1.0011,0.9995,1.0022,0.9988,1.0000,0.9991,1.0009,
    0.9996,1.0014,0.9983,1.0004,0.9999,1.0008,0.9988,1.0012,0.9994,1.0001,
    1.0016,0.9992,1.0003,0.9986,1.0010,0.9998,1.0019,0.9990,1.0005,0.9999,
    1.0014,0.9984,1.0002,1.0008,0.9993,1.0011,0.9989,0.9999,1.0017,0.9995,
    1.0006,0.9987,1.0009,0.9997,1.0014,0.9991,1.0003,0.9982,1.0008,1.0000,
    1.0013,0.9994,1.0004,0.9988,1.0021,0.9997,1.0005,0.9991,1.0012,0.9999,
    1.0016,0.9986,1.0002,1.0008,0.9995,1.0011,0.9987,1.0003,1.0019,0.9993,
    1.0007,
    1.0020,1.0008,1.0031,1.0014,1.0002,1.0025,1.0011,1.0019,0.9999,1.0016,
    1.0028,1.0006,1.0013,0.9996,1.0022,1.0009,1.0001,1.0018,0.9994,1.0012,
    1.0004,1.0024,0.9998,1.0010,0.9990,1.0015,1.0003,1.0020,0.9995,1.0008,
    1.0000,1.0017,0.9992,1.0006,0.9998,1.0013,0.9989,1.0004,0.9996,1.0011,
    0.9986,1.0001,0.9990,0.9996,
    0.9978,0.9988,0.9965,0.9980,0.9958,0.9973,0.9985,0.9962,0.9976,0.9950,
    0.9981,0.9968,0.9955,0.9977,0.9963,0.9986,0.9970,0.9992,0.9979,
    1.0004,0.9988,1.0013,0.9994,0.9981,1.0007,0.9990,1.0016,0.9997,0.9985,
    1.0009,0.9993,1.0002,0.9979,1.0011,0.9996,1.0019,0.9989,1.0003,0.9984,
    1.0008,0.9998,1.0014,0.9986,1.0001,0.9992,1.0010,0.9982,1.0005,0.9995,
    1.0017,0.9990,1.0006,0.9999,1.0021,
    0.9992,1.0018,1.0003,1.0029,0.9985,1.0010,0.9996,1.0034,1.0007,0.9978,
    1.0021,1.0000,1.0038,0.9989,1.0014,0.9972,1.0025,1.0005,0.9993,1.0031,
    1.0011,0.9982,1.0040,1.0002,1.0019,0.9975,1.0027,1.0008,0.9990,1.0035,
    1.0013,0.9968,1.0022,0.9997,1.0043,1.0004,0.9980,1.0030,1.0009,0.9987,
    1.0024,
]
# Sector 90: scattered points away from the dense band
s90_sparse_time = [
    3748.40,3749.20,3748.85,3750.75,3751.20,3751.65,3752.25,3753.00,3753.45,3749.80,
    3747.80,3752.40,3750.90,3747.65,
    3754.55,3755.30,3756.20,3757.20,3758.90,3760.13,3759.80,3759.25,3759.45,3759.05,
    3755.45,3756.65,3757.35,3758.25,3760.05,3760.00,3759.95,
    3761.20,3761.40,3762.25,3762.60,3763.15,3764.20,3765.30,3765.85,3766.60,3767.00,
    3767.65,3767.80,3768.10,3764.85,3762.90,3766.45,
    3768.55,3768.65,3769.60,3770.10,3770.00,3769.45,3770.35,3770.85,3771.00,3770.95,
    3771.60,3772.20,3772.60,3772.90,3773.20,3773.45,3773.75,3773.90,3774.05,3774.35,
    3774.40,3774.45,3774.55,3774.65,3774.90,3774.95,3774.60,3773.60,
]
s90_sparse_flux = [
    1.0049,1.0043,0.9952,1.0044,0.9953,1.0045,0.9960,0.9955,1.0042,0.9958,
    0.9963,1.0038,0.9962,1.0034,
    1.0047,1.0041,1.0039,1.0046,1.0052,1.0045,0.9940,0.9938,0.9930,0.9947,
    0.9959,0.9957,0.9953,0.9950,0.9932,0.9920,0.9944,
    0.9970,0.9930,1.0050,1.0055,0.9945,1.0044,1.0047,0.9948,1.0043,1.0052,
    0.9947,1.0048,0.9960,0.9954,1.0037,0.9956,
    1.0051,1.0050,1.0044,1.0047,0.9962,0.9972,1.0044,0.9950,0.9938,0.9928,
    1.0042,1.0045,0.9960,0.9934,1.0058,1.0062,0.9932,1.0078,0.9940,1.0066,
    0.9928,0.9922,1.0055,0.9945,1.0048,0.9955,1.0060,0.9950,
]

# --------------- layout -----------------
LEFT_W = 20
MAIN_W = 1179
BORDER_L = 60
BORDER_R = 1
BLUE = "#0000ff"


def panel(xr, yr, xt, yt, yfmt, h, bt, bb):
    p = figure(width=MAIN_W, height=h, x_range=Range1d(*xr), y_range=Range1d(*yr),
               output_backend="svg", toolbar_location=None,
               min_border_left=BORDER_L, min_border_right=BORDER_R,
               min_border_top=bt, min_border_bottom=bb)
    p.xgrid.visible = False
    p.ygrid.visible = False
    p.outline_line_color = "black"
    p.outline_line_width = 1
    p.outline_line_alpha = 1
    p.background_fill_color = "white"
    for ax in (p.xaxis[0], p.yaxis[0]):
        ax.major_tick_in = 0
        ax.major_tick_out = 4
        ax.minor_tick_line_color = None
        ax.axis_line_color = "black"
        ax.major_tick_line_color = "black"
        ax.major_label_text_font = FONT
        ax.major_label_text_font_size = FS
        ax.major_label_text_color = "black"
    p.xaxis.ticker = FixedTicker(ticks=xt)
    p.yaxis.ticker = FixedTicker(ticks=yt)
    p.xaxis.formatter = NumeralTickFormatter(format="0")
    p.yaxis.formatter = NumeralTickFormatter(format=yfmt)
    p.xaxis.major_label_standoff = 10
    p.yaxis.major_label_standoff = 4
    return p


def style_legend(p):
    lg = p.legend[0]
    lg.location = "bottom_center"
    lg.margin = 7
    lg.padding = 4
    lg.spacing = 0
    lg.glyph_width = 32
    lg.glyph_height = 17
    lg.label_height = 17
    lg.label_standoff = 11
    lg.label_text_font = FONT
    lg.label_text_font_size = FS
    lg.label_text_color = "black"
    lg.border_line_color = "#cccccc"
    lg.border_line_alpha = 0.8
    lg.background_fill_color = "white"
    lg.background_fill_alpha = 0.8


p1 = panel((1543.25, 1569.66), (0.99746, 1.00162),
           s9_xticks, s9_yticks, "0.000", 186, 1, 37)
p1.scatter(s9_time, s9_flux, marker="square", size=5, fill_color=BLUE,
           fill_alpha=0.38, line_color=None, legend_label=sector_labels[0])
style_legend(p1)

p2 = panel((1571.07, 1596.81), (0.99688, 1.00254),
           s10_xticks, s10_yticks, "0.000", 190, 5, 36)
p2.scatter(s10_time, s10_flux, marker="square", size=5, fill_color=BLUE,
           fill_alpha=0.38, line_color=None, legend_label=sector_labels[1])
style_legend(p2)

p3 = panel((3013.04, 3042.2), (0.99395, 1.00593),
           s63_xticks, s63_yticks, "0.0000", 190, 5, 36)
p3.scatter(s63_time, s63_flux, marker="square", size=10, fill_color=BLUE,
           fill_alpha=0.5, line_color=None)
p3.scatter(s63_sparse_time, s63_sparse_flux, marker="square", size=5, fill_color=BLUE,
           fill_alpha=0.4, line_color=None, legend_label=sector_labels[2])
style_legend(p3)

p4 = panel((3746.01, 3776.29), (0.98991, 1.00855),
           s90_xticks, s90_yticks, "0.000", 182, 5, 28)
p4.scatter(s90_time, s90_flux, marker="square", size=11, fill_color=BLUE,
           fill_alpha=0.5, line_color=None)
p4.scatter(s90_sparse_time, s90_sparse_flux, marker="square", size=5, fill_color=BLUE,
           fill_alpha=0.4, line_color=None, legend_label=sector_labels[3])
style_legend(p4)


BOTTOM_H = 24
total_h = 186 + 190 + 190 + 182 + BOTTOM_H

# left strip carrying the shared y-axis title (frame centred at y = 382)
left = figure(width=LEFT_W, height=total_h, x_range=Range1d(0, 1), y_range=Range1d(0, 1),
              output_backend="svg", toolbar_location=None,
              min_border_left=0, min_border_right=0, min_border_top=0,
              min_border_bottom=8, x_axis_location=None, y_axis_location="left")
left.xgrid.visible = False
left.ygrid.visible = False
left.outline_line_color = None
ya = left.yaxis[0]
ya.ticker = FixedTicker(ticks=[])
ya.axis_line_color = None
ya.major_tick_line_color = None
ya.minor_tick_line_color = None
ya.major_tick_out = 0
ya.major_tick_in = 0
ya.major_label_standoff = 0
ya.axis_label = y_title
ya.axis_label_standoff = 0
ya.axis_label_text_font = FONT
ya.axis_label_text_font_size = FS
ya.axis_label_text_font_style = "normal"
ya.axis_label_text_color = "black"

# bottom strip (same borders as the panels) carrying the shared x-axis title,
# left-aligned so that it starts at x = 502 px
bottom = figure(width=MAIN_W, height=BOTTOM_H, x_range=Range1d(0, 1), y_range=Range1d(0, 1),
                output_backend="svg", toolbar_location=None,
                min_border_left=BORDER_L, min_border_right=BORDER_R, min_border_top=0,
                min_border_bottom=0, x_axis_location=None, y_axis_location=None)
bottom.xgrid.visible = False
bottom.ygrid.visible = False
bottom.outline_line_color = None
bottom.add_layout(Title(text=x_title, align="left", offset=422, standoff=0,
                        text_font=FONT, text_font_size=FS, text_font_style="normal",
                        text_color="black"), "below")

layout = row(left, column(p1, p2, p3, p4, bottom))

open("out.html", "w").write(file_html(layout, INLINE))
